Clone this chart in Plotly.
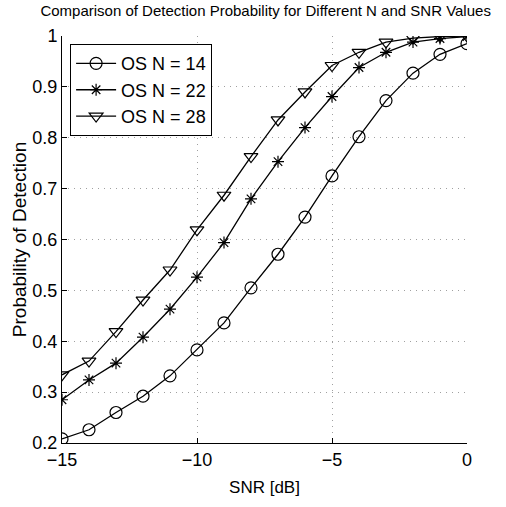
import plotly.graph_objects as go

# SNR sweep (dB)
snr_db = [-15, -14, -13, -12, -11, -10, -9, -8, -7, -6, -5, -4, -3, -2, -1, 0]

# Detection probability per reference-window size
pd_n14 = [0.208, 0.226, 0.260, 0.292, 0.332, 0.383, 0.436, 0.505, 0.571,
          0.644, 0.725, 0.802, 0.873, 0.927, 0.964, 0.985]
pd_n22 = [0.285, 0.324, 0.357, 0.408, 0.463, 0.526, 0.594, 0.680, 0.753,
          0.820, 0.881, 0.938, 0.968, 0.988, 0.995, 0.999]
pd_n28 = [0.334, 0.361, 0.419, 0.481, 0.540, 0.619, 0.687, 0.763, 0.835,
          0.890, 0.942, 0.968, 0.988, 0.996, 0.999, 1.000]

series_names = ["OS N = 14", "OS N = 22", "OS N = 28"]

y_ticks = [0.2, 0.3, 0.4, 0.5, 0.6, 0.7, 0.8, 0.9, 1.0]
y_tick_text = ["0.2", "0.3", "0.4", "0.5", "0.6", "0.7", "0.8", "0.9", "1"]
x_ticks = [-15, -10, -5, 0]
x_tick_text = ["\u221215", "\u221210", "\u22125", "0"]

FONT = "Liberation Sans, Arial, Helvetica, sans-serif"

# marker style for each curve: (symbol, size)
marker_styles = [("circle-open", 12), ("asterisk-open", 10), ("triangle-down-open", 12)]

fig = go.Figure()
for name, ys, (sym, msize) in zip(series_names, [pd_n14, pd_n22, pd_n28], marker_styles):
    fig.add_trace(go.Scatter(
        x=snr_db, y=ys, name=name, mode="lines+markers",
        line=dict(color="black", width=1.3),
        marker=dict(symbol=sym, size=msize, color="black",
                    line=dict(color="black", width=1.2)),
    ))

axis_common = dict(
    showline=True, linecolor="black", linewidth=1,
    ticks="inside", ticklen=5, tickcolor="black",
    showgrid=True, gridcolor="#a0a0a0", griddash="1px,5px", gridwidth=1,
    zeroline=False,
    tickfont=dict(family=FONT, size=18, color="black"),
)

fig.update_xaxes(
    range=[-15, 0], tickvals=x_ticks, ticktext=x_tick_text,
    title=dict(text="SNR [dB]", font=dict(family=FONT, size=17, color="black"),
               standoff=12),
    **axis_common,
)
fig.update_yaxes(
    range=[0.2, 1.0], tickvals=y_ticks, ticktext=y_tick_text,
    title=dict(text="Probability of Detection",
               font=dict(family=FONT, size=19, color="black"), standoff=0),
    **axis_common,
)

fig.update_layout(
    width=506, height=507,
    margin=dict(l=62, r=39, t=36, b=64),
    paper_bgcolor="white", plot_bgcolor="white",
    title=dict(text="Comparison of Detection Probability for Different N and SNR Values",
               font=dict(family=FONT, size=15, color="black"),
               x=0.525, xanchor="center", y=0.99, yanchor="top"),
    legend=dict(
        x=0.02, y=0.98, xanchor="left", yanchor="top",
        bgcolor="white", bordercolor="black", borderwidth=1,
        font=dict(family=FONT, size=18, color="black"),
        itemwidth=40, tracegroupgap=2,
    ),
    showlegend=True,
)

fig.write_html("out.html")
